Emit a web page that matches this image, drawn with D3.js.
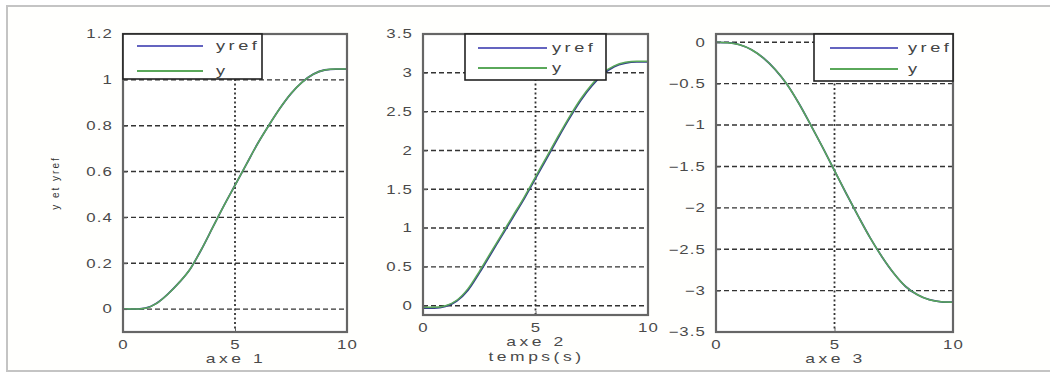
<!DOCTYPE html>
<html>
<head>
<meta charset="utf-8">
<script src="https://d3js.org/d3.v7.min.js"></script>
<style>
  body { margin: 0; background: #fff; }
  text { font-family: "Liberation Sans", Arial, sans-serif; }
  .wide { transform-box: fill-box; transform: scaleX(1.4); }
</style>
</head>
<body>
<div id="chart"></div>
<script>
// time samples (s)
var tVals = [0, 0.5, 1, 1.5, 2, 2.5, 3, 3.5, 4, 4.5, 5, 5.5, 6, 6.5, 7, 7.5, 8, 8.5, 9, 9.5, 10];

// axe 1
var yref1 = [0, 0, 0.004, 0.025, 0.065, 0.115, 0.175, 0.26, 0.355, 0.45, 0.54, 0.63, 0.72, 0.80, 0.875, 0.94, 0.99, 1.025, 1.043, 1.047, 1.047];
var y1 = [0, 0, 0.004, 0.025, 0.065, 0.115, 0.175, 0.26, 0.355, 0.45, 0.54, 0.63, 0.72, 0.80, 0.875, 0.94, 0.99, 1.025, 1.043, 1.047, 1.047];

// axe 2
var yref2 = [-0.03, -0.03, -0.01, 0.06, 0.2, 0.42, 0.66, 0.9, 1.14, 1.38, 1.64, 1.9, 2.16, 2.41, 2.64, 2.83, 2.98, 3.08, 3.125, 3.14, 3.14];
var y2 = [-0.02, -0.02, 0.0, 0.07, 0.22, 0.44, 0.68, 0.92, 1.16, 1.4, 1.66, 1.92, 2.18, 2.43, 2.66, 2.85, 3.0, 3.09, 3.135, 3.15, 3.15];

// axe 3
var yref3 = [0, -0.005, -0.03, -0.09, -0.19, -0.33, -0.51, -0.74, -1.0, -1.27, -1.55, -1.83, -2.1, -2.36, -2.59, -2.79, -2.95, -3.05, -3.11, -3.135, -3.14];
var y3 = [0, -0.005, -0.03, -0.09, -0.19, -0.33, -0.51, -0.74, -1.0, -1.27, -1.55, -1.83, -2.1, -2.36, -2.59, -2.79, -2.95, -3.05, -3.11, -3.135, -3.14];

var xTicks = [0, 5, 10];
var yTicks1 = [0, 0.2, 0.4, 0.6, 0.8, 1, 1.2];
var yTicks2 = [0, 0.5, 1, 1.5, 2, 2.5, 3, 3.5];
var yTicks3 = [-3.5, -3, -2.5, -2, -1.5, -1, -0.5, 0];
var seriesNames = ["yref", "y"];

var width = 1050, height = 375;
var refColor = "#34408a", yColor = "#5aa85a", axisColor = "#666", labelColor = "#4a4a4a";

var svg = d3.select("#chart").append("svg")
    .attr("width", width)
    .attr("height", height);

// outer frame
svg.append("rect")
    .attr("x", 7).attr("y", 6)
    .attr("width", 1060).attr("height", 365)
    .attr("fill", "#fffffd")
    .attr("stroke", "#c4c4c4")
    .attr("stroke-width", 2);

var panels = [
    { left: 123, right: 347, top: 34, bottom: 332, dom: [-0.1, 1.2], ticks: yTicks1, ref: yref1, y: y1,
      legend: { x0: 123, x1: 262, y0: 34, y1: 79, l0: 137, l1: 203, tx: 216, r0: 46, r1: 71 },
      xlabels: ["axe 1"], ylabel: "y et yref" },
    { left: 423, right: 648, top: 34, bottom: 315, dom: [-0.12, 3.5], ticks: yTicks2, ref: yref2, y: y2,
      legend: { x0: 465, x1: 606, y0: 34, y1: 80, l0: 478, l1: 547, tx: 552, r0: 48, r1: 68 },
      xlabels: ["axe 2", "temps(s)"] },
    { left: 716, right: 953, top: 34, bottom: 332, dom: [-3.5, 0.1], ticks: yTicks3, ref: yref3, y: y3,
      legend: { x0: 814, x1: 953, y0: 34, y1: 81, l0: 830, l1: 898, tx: 908, r0: 48, r1: 69 },
      xlabels: ["axe 3"] }
];

panels.forEach(function(p) {
    var x = d3.scaleLinear().domain([0, 10]).range([p.left, p.right]);
    var y = d3.scaleLinear().domain(p.dom).range([p.bottom, p.top]);
    var g = svg.append("g");

    g.append("rect")
        .attr("x", p.left).attr("y", p.top)
        .attr("width", p.right - p.left).attr("height", p.bottom - p.top)
        .attr("fill", "#fff");

    // grid
    g.selectAll(".hgrid").data(p.ticks).enter().append("line")
        .attr("x1", p.left).attr("x2", p.right)
        .attr("y1", function(d) { return y(d); })
        .attr("y2", function(d) { return y(d); })
        .attr("stroke", "#333").attr("stroke-width", 1.4)
        .attr("stroke-dasharray", "5,3");
    g.append("line")
        .attr("x1", x(5)).attr("x2", x(5))
        .attr("y1", p.top).attr("y2", p.bottom)
        .attr("stroke", "#333").attr("stroke-width", 1.8)
        .attr("stroke-dasharray", "2,2.5");

    // curves
    var line = d3.line()
        .x(function(d, i) { return x(tVals[i]); })
        .y(function(d) { return y(d); })
        .curve(d3.curveMonotoneX);
    g.append("path").datum(p.ref).attr("d", line)
        .attr("fill", "none").attr("stroke", refColor).attr("stroke-width", 1.8);
    g.append("path").datum(p.y).attr("d", line)
        .attr("fill", "none").attr("stroke", yColor).attr("stroke-width", 1.5);

    // axes with inward ticks
    var ax = g.append("g").attr("transform", "translate(0," + p.bottom + ")")
        .call(d3.axisBottom(x).tickValues(xTicks).tickSize(-4).tickPadding(8).tickFormat(d3.format("d")));
    var ay = g.append("g").attr("transform", "translate(" + p.left + ",0)")
        .call(d3.axisLeft(y).tickValues(p.ticks).tickSize(-4).tickPadding(10).tickFormat(function(d) { return d3.format("")(d); }));
    [ax, ay].forEach(function(a) {
        a.select(".domain").remove();
        a.selectAll(".tick line").attr("stroke", axisColor);
        a.selectAll("text").attr("class", "wide").attr("fill", labelColor)
            .style("font-size", "12px").style("letter-spacing", "0.8px");
    });
    ax.selectAll("text").style("transform-origin", "center");
    ay.selectAll("text").style("transform-origin", "right center");

    g.append("rect")
        .attr("x", p.left).attr("y", p.top)
        .attr("width", p.right - p.left).attr("height", p.bottom - p.top)
        .attr("fill", "none").attr("stroke", axisColor).attr("stroke-width", 2.2);

    // legend
    var L = p.legend;
    g.append("rect")
        .attr("x", L.x0).attr("y", L.y0)
        .attr("width", L.x1 - L.x0).attr("height", L.y1 - L.y0)
        .attr("fill", "#fff").attr("stroke", "#222").attr("stroke-width", 1.6);
    [L.r0, L.r1].forEach(function(ry, i) {
        g.append("line")
            .attr("x1", L.l0).attr("x2", L.l1).attr("y1", ry).attr("y2", ry)
            .attr("stroke", i === 0 ? "#6464c0" : yColor).attr("stroke-width", 1.8);
        g.append("text")
            .attr("class", "wide")
            .attr("x", L.tx).attr("y", ry + 4)
            .attr("fill", "#444").style("font-size", "13px").style("letter-spacing", "2.5px")
            .style("transform-origin", "left center")
            .text(seriesNames[i]);
    });

    // axis labels
    p.xlabels.forEach(function(s, i) {
        g.append("text")
            .attr("class", "wide")
            .attr("x", x(5) + 1).attr("y", p.bottom + 31 + i * 15)
            .attr("text-anchor", "middle")
            .attr("fill", labelColor).style("font-size", "12.5px").style("letter-spacing", "2.5px")
            .style("transform-origin", "center")
            .text(s);
    });
    if (p.ylabel) {
        g.append("text")
            .attr("transform", "translate(59," + 183 + ") rotate(-90)")
            .attr("text-anchor", "middle")
            .attr("fill", "#333").style("font-size", "10px").style("letter-spacing", "2px")
            .text(p.ylabel);
    }
});
</script>
</body>
</html>
